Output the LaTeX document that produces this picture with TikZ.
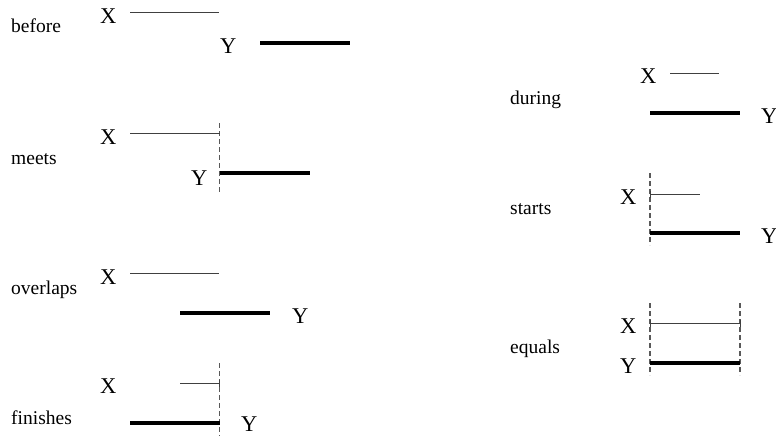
\documentclass[tikz,border=0pt]{standalone}
\usepackage{fontspec}
\setmainfont{Liberation Serif}
\begin{document}
\begin{tikzpicture}[x=1pt,y=-1pt,
  lbl/.style={anchor=base west,inner sep=0pt,font=\fontsize{19.5}{22}\selectfont},
  var/.style={anchor=base west,inner sep=0pt,font=\fontsize{22.5}{26}\selectfont},
  xline/.style={draw=black!75,line width=1pt},
  yline/.style={draw=black,line width=3.6pt},
  guide/.style={draw=black!65,line width=1.3pt,dash pattern=on 5pt off 3pt},
  tick/.style={draw=black!75,line width=1pt}]
\useasboundingbox (0,0) rectangle (776,436);
% before
\node[lbl] (tbefore) at (11,33) {before};
\node[var] (xbefore) at (100,24) {X};
\node[var] (ybefore) at (220,53) {Y};
\coordinate (bx1) at (130,13); \coordinate (bx2) at (219,13);
\coordinate (by1) at (260,43); \coordinate (by2) at (350,43);
\draw[xline] (bx1) -- (bx2);
\draw[yline] (by1) -- (by2);
% meets
\node[lbl] (tmeets) at (11,164) {meets};
\node[var] (xmeets) at (100,144) {X};
\node[var] (ymeets) at (191,185) {Y};
\coordinate (mx1) at (130,133); \coordinate (mx2) at (219.5,133);
\coordinate (my1) at (219.5,173); \coordinate (my2) at (310,173);
\coordinate (mg1) at (219.5,123); \coordinate (mg2) at (219.5,193);
\draw[guide] (mg1) -- (mg2);
\draw[xline] (mx1) -- (mx2);
\draw[yline] (my1) -- (my2);
% overlaps
\node[lbl] (toverlaps) at (11,294) {overlaps};
\node[var] (xoverlaps) at (100,284) {X};
\node[var] (yoverlaps) at (292,323) {Y};
\coordinate (ox1) at (130,273); \coordinate (ox2) at (219,273);
\coordinate (oy1) at (180,313); \coordinate (oy2) at (270,313);
\draw[xline] (ox1) -- (ox2);
\draw[yline] (oy1) -- (oy2);
% finishes
\node[lbl] (tfinishes) at (11,424) {finishes};
\node[var] (xfinishes) at (100,393) {X};
\node[var] (yfinishes) at (241,431.5) {Y};
\coordinate (fx1) at (180,383); \coordinate (fx2) at (219.5,383);
\coordinate (fy1) at (130,423); \coordinate (fy2) at (219.5,423);
\coordinate (fg1) at (219.5,363); \coordinate (fg2) at (219.5,436);
\draw[guide] (fg1) -- (fg2);
\draw[xline] (fx1) -- (fx2);
\draw[tick] ([yshift=-3.5pt]fx2) -- ([yshift=3.5pt]fx2);
\draw[yline] (fy1) -- (fy2);
% during
\node[lbl] (tduring) at (510,104) {during};
\node[var] (xduring) at (640,83) {X};
\node[var] (yduring) at (761,123) {Y};
\coordinate (dx1) at (670,73); \coordinate (dx2) at (719,73);
\coordinate (dy1) at (650,113); \coordinate (dy2) at (740,113);
\draw[xline] (dx1) -- (dx2);
\draw[yline] (dy1) -- (dy2);
% starts
\node[lbl] (tstarts) at (510,214) {starts};
\node[var] (xstarts) at (620,204) {X};
\node[var] (ystarts) at (761,243) {Y};
\coordinate (sx1) at (650,194); \coordinate (sx2) at (700,194);
\coordinate (sy1) at (650,233); \coordinate (sy2) at (740,233);
\coordinate (sg1) at (650,173); \coordinate (sg2) at (650,245);
\draw[guide] (sg1) -- (sg2);
\draw[xline] (sx1) -- (sx2);
\draw[tick] ([yshift=-3.5pt]sx1) -- ([yshift=3.5pt]sx1);
\draw[yline] (sy1) -- (sy2);
% equals
\node[lbl] (tequals) at (510,353) {equals};
\node[var] (xequals) at (620,333) {X};
\node[var] (yequals) at (620,373) {Y};
\coordinate (ex1) at (650,323); \coordinate (ex2) at (740,323);
\coordinate (ey1) at (650,363); \coordinate (ey2) at (740,363);
\coordinate (eg1) at (650,303); \coordinate (eg2) at (650,375);
\coordinate (eh1) at (740,303); \coordinate (eh2) at (740,375);
\draw[guide] (eg1) -- (eg2);
\draw[guide] (eh1) -- (eh2);
\draw[xline] (ex1) -- (ex2);
\draw[tick] ([yshift=-3.5pt]ex1) -- ([yshift=3.5pt]ex1);
\draw[tick] ([yshift=-3.5pt]ex2) -- ([yshift=3.5pt]ex2);
\draw[yline] (ey1) -- (ey2);
\end{tikzpicture}
\end{document}
